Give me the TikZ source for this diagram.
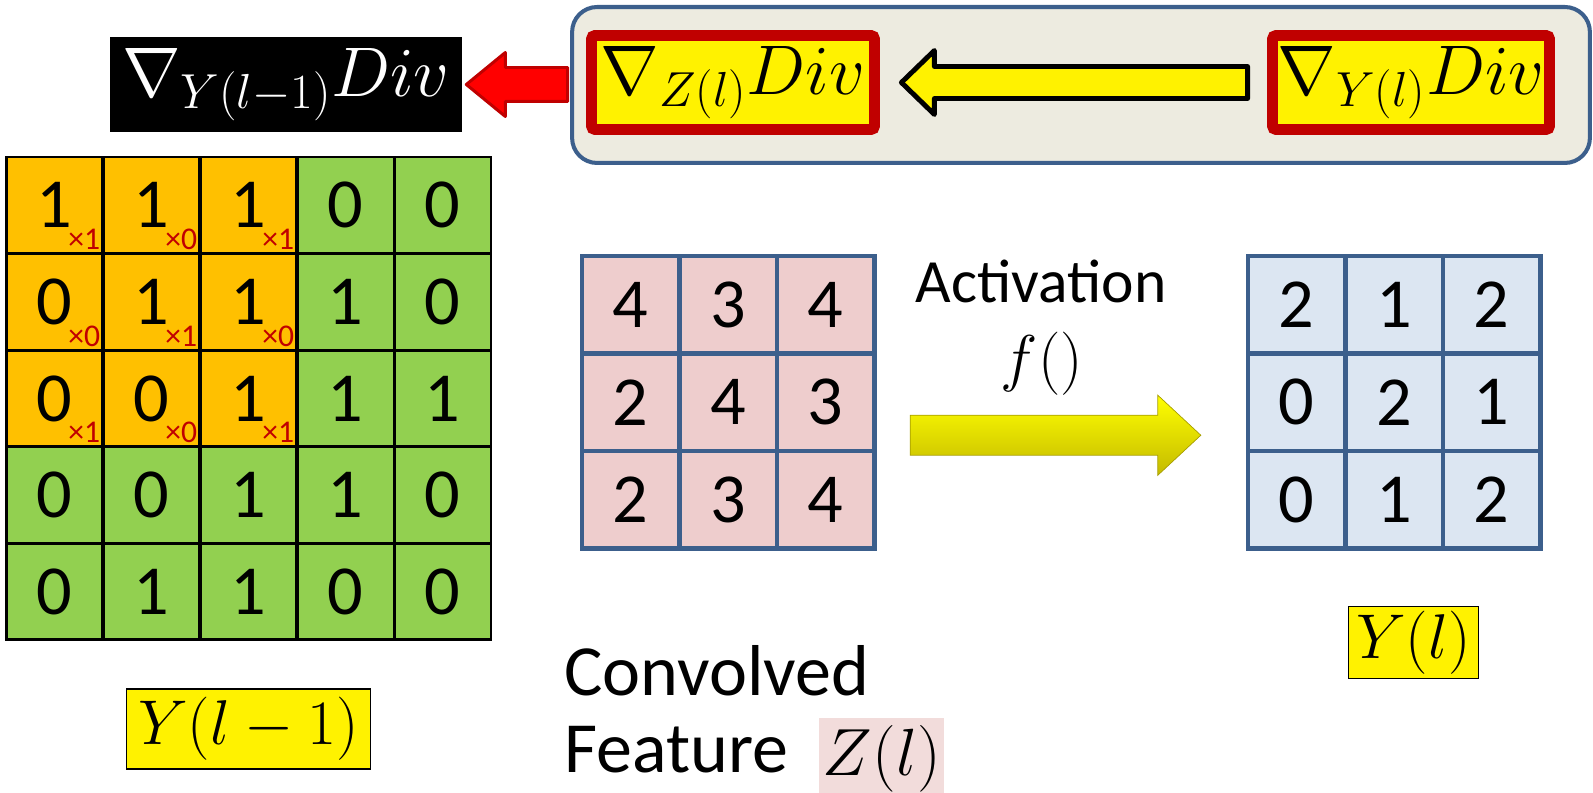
\RequirePackage{fix-cm}
\documentclass[tikz,border=0pt]{standalone}
\usepackage{fontspec}
\setsansfont{Carlito}
\usepackage{xcolor}
\usepackage{tikz}
\usetikzlibrary{positioning,calc}

\definecolor{kernorange}{RGB}{255,192,0}
\definecolor{inputgreen}{RGB}{146,208,80}
\definecolor{convpink}{RGB}{238,205,205}
\definecolor{actblue}{RGB}{220,230,242}
\definecolor{gridblue}{RGB}{60,95,140}
\definecolor{panelbeige}{RGB}{237,235,224}
\definecolor{darkred}{RGB}{192,0,0}
\definecolor{zpink}{RGB}{242,220,219}
\definecolor{olivebot}{RGB}{196,186,0}

\newcommand\setsz[1]{\fontsize{#1}{#1}\selectfont}

\begin{document}
\begin{tikzpicture}[x=0.02cm, y=-0.02cm,
    incell/.style={draw=black, line width=1.7pt, minimum width=1.94cm,
                   minimum height=1.932cm, inner sep=0pt,
                   font=\sffamily\setsz{40}},
    featcell/.style={draw=gridblue, line width=2.5pt, minimum width=1.95cm,
                     minimum height=1.95cm, inner sep=0pt,
                     font=\sffamily\setsz{40}},
    kern/.style={text=darkred, inner sep=0pt, font=\sffamily\setsz{18}},
    divbox/.style={draw=darkred, line width=6.2pt, rounded corners=2pt,
                   fill=yellow, minimum height=1.88cm, inner sep=0pt,
                   font=\setsz{40}},
    lbl/.style={draw=black, line width=0.8pt, fill=yellow, inner sep=0pt,
                font=\setsz{36}},
    txt/.style={font=\sffamily\setsz{41}, inner sep=0pt}
]
\useasboundingbox (0,0) rectangle (1593,793);

% input map with the 3x3 kernel window
\foreach \row [count=\r] in {{1,1,1,0,0},{0,1,1,1,0},{0,0,1,1,1},{0,0,1,1,0},{0,1,1,0,0}}
  \foreach \v [count=\c] in \row {
    \ifnum\r<4 \ifnum\c<4 \def\cf{kernorange}\else\def\cf{inputgreen}\fi
    \else\def\cf{inputgreen}\fi
    \node[incell, fill=\cf] (in-\r-\c) at ({6+97*(\c-0.5)},{157+96.6*(\r-0.5)}) {\v};
  }
\foreach \krow [count=\r] in {{1,0,1},{0,1,0},{1,0,1}}
  \foreach \w [count=\c] in \krow
    \node[kern, anchor=south east] at ([shift={(-4,-5)}]in-\r-\c.south east) {×\w};

% convolved feature and activation
\foreach \row [count=\r] in {{4,3,4},{2,4,3},{2,3,4}}
  \foreach \v [count=\c] in \row
    \node[featcell, fill=convpink] (z-\r-\c) at ({582+97.5*(\c-0.5)},{256+97.5*(\r-0.5)}) {\v};
\foreach \row [count=\r] in {{2,1,2},{0,2,1},{0,1,2}}
  \foreach \v [count=\c] in \row
    \node[featcell, fill=actblue] (y-\r-\c) at ({1248+97.5*(\c-0.5)},{256+97.5*(\r-0.5)}) {\v};

\coordinate (acttail) at ([xshift=0.67cm, yshift=-0.66cm]z-2-3.east);
\coordinate (acttip) at ([xshift=-0.9cm, yshift=-0.66cm]y-2-1.west);
\path[top color=yellow, bottom color=olivebot, draw=olivebot!85!black, line width=0.4pt]
  let \p1=(acttail), \p2=(acttip) in
  (\x1,\y1+0.4cm) -- (\x2-0.86cm,\y1+0.4cm) -- (\x2-0.86cm,\y1+0.8cm) -- (\x2,\y2)
  -- (\x2-0.86cm,\y1-0.8cm) -- (\x2-0.86cm,\y1-0.4cm) -- (\x1,\y1-0.4cm) -- cycle;

\node[txt, font=\sffamily\setsz{35}, anchor=base] (actname) at (1041,303) {Activation};
\node[inner sep=0pt, font=\setsz{36}] (actfn) at (1042,364) {$f()$};

% labels
\node[lbl, minimum width=4.88cm, minimum height=1.6cm, below=0.94cm of in-5-3] (ylm) {$Y(l-1)$};
\node[lbl, minimum width=2.6cm, minimum height=1.44cm, below=1.1cm of y-3-2, xshift=0.38cm] (ylab) {$Y(l)$};
\node[txt, anchor=base west] (conv) at (564,696) {Convolved};
\node[txt, anchor=base west] (feat) at (564,772) {Feature};
\node[fill=zpink, inner sep=0pt, font=\setsz{38}, minimum width=2.5cm,
      minimum height=1.6cm, anchor=north west] (zlab) at (819,718) {$Z(l)$};

% backward gradient chain
\node[fill=black, text=white, minimum width=7.04cm, minimum height=1.9cm,
      inner sep=0pt, font=\setsz{40}] (prevgrad) at (286,84.5) {$\nabla_{Y(l-1)}Div$};
\node[draw=gridblue, line width=2.3pt, fill=panelbeige, rounded corners=0.5cm,
      minimum width=20.36cm, minimum height=3.12cm] (chain) at (1081,85) {};
\draw[fill=red, draw=darkred, line width=1.7pt, line join=round]
  let \p1=([xshift=-0.05cm]chain.west), \p2=([xshift=0.08cm]prevgrad.east) in
  (\x1,\y2+0.34cm) -- (\x2+0.78cm,\y2+0.34cm) -- (\x2+0.78cm,\y2+0.64cm) -- (\x2,\y2)
  -- (\x2+0.78cm,\y2-0.64cm) -- (\x2+0.78cm,\y2-0.34cm) -- (\x1,\y2-0.34cm) -- cycle;
\node[divbox, minimum width=5.66cm] (zdiv) at (733,82.5) {$\nabla_{Z(l)}Div$};
\node[divbox, minimum width=5.54cm] (ydiv) at (1411,82.5) {$\nabla_{Y(l)}Div$};
\draw[fill=yellow, draw=black, line width=2.8pt, line join=round]
  let \p1=([xshift=-0.39cm]ydiv.west), \p2=([xshift=0.43cm]zdiv.east) in
  (\x1,\y1+0.32cm) -- (\x2+0.66cm,\y1+0.32cm) -- (\x2+0.66cm,\y1+0.64cm) -- (\x2,\y2)
  -- (\x2+0.66cm,\y1-0.64cm) -- (\x2+0.66cm,\y1-0.32cm) -- (\x1,\y1-0.32cm) -- cycle;
\end{tikzpicture}
\end{document}
